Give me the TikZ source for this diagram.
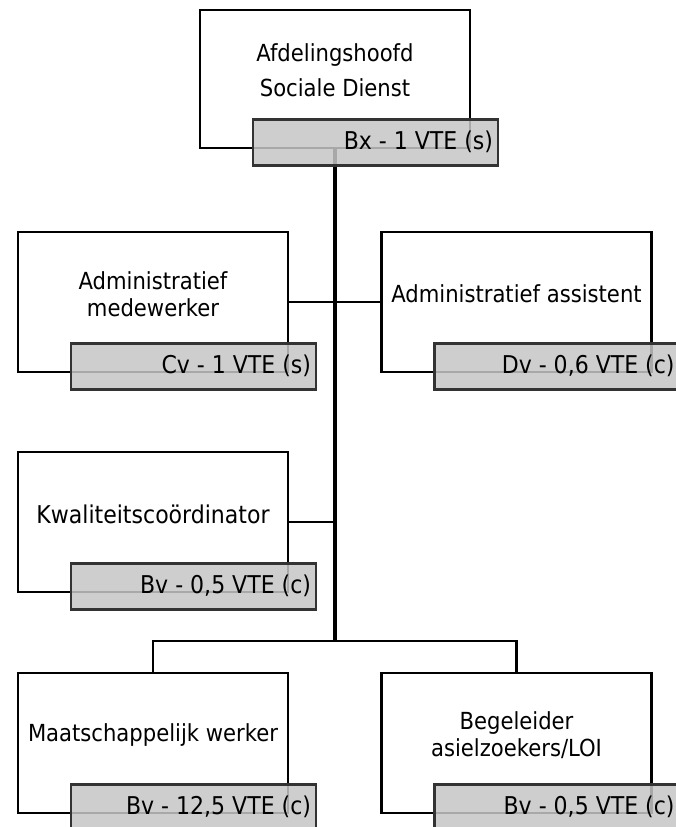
\documentclass[tikz,border=0pt]{standalone}
\usepackage{fontspec}
\setmainfont{DejaVu Sans Condensed}
\usetikzlibrary{calc,backgrounds}
\definecolor{tagfill}{RGB}{198,198,198}
\definecolor{tagline}{RGB}{51,51,51}
\begin{document}
\begin{tikzpicture}[x=1pt,y=-1pt,
  unitbox/.style={draw=black,line width=2.5pt,fill=white,minimum width=270pt,minimum height=140pt,inner sep=0pt},
  unitname/.style={align=center,font=\fontsize{23.5}{27}\selectfont,inner sep=0pt},
  tag/.style={draw=tagline,line width=2.5pt,fill=tagfill,fill opacity=0.85,minimum width=245pt,minimum height=46pt,inner sep=0pt},
  tagtext/.style={anchor=east,font=\fontsize{24.5}{26}\selectfont,inner sep=0pt},
  link/.style={line width=2.5pt,draw=black},
  trunk/.style={line width=3.5pt,draw=black}]
\useasboundingbox (0,0) rectangle (675,827);

% unit boxes
\node[unitbox,minimum height=138pt] (head) at (335,79) {};
\node[unitbox] (adm) at (153,302) {};
\node[unitbox] (ass) at (516.5,302) {};
\node[unitbox] (kwa) at (153,522) {};
\node[unitbox] (maw) at (153,743) {};
\node[unitbox] (beg) at (516.5,743) {};

% unit names
\node[unitname,font=\fontsize{23.5}{35}\selectfont] (headtxt) at ($(head.center)+(0,-9)$) {Afdelingshoofd\\Sociale Dienst};
\node[unitname] (admtxt) at ($(adm.center)+(0,-8)$) {Administratief\\medewerker};
\node[unitname] (asstxt) at ($(ass.center)+(0,-8)$) {Administratief assistent};
\node[unitname,font=\fontsize{24.5}{27}\selectfont] (kwatxt) at ($(kwa.center)+(0,-8)$) {Kwaliteitscoördinator};
\node[unitname] (mawtxt) at ($(maw.center)+(0,-8)$) {Maatschappelijk werker};
\node[unitname] (begtxt) at ($(beg.center)+(0,-8)$) {Begeleider\\asielzoekers/LOI};

% staffing tags, overlapping the lower right corner of each box
\foreach \u/\t in {head/Bx - 1 VTE (s), adm/Cv - 1 VTE (s), ass/Dv - 0{,}6 VTE (c),
                   kwa/Bv - 0{,}5 VTE (c), maw/Bv - 12{,}5 VTE (c), beg/Bv - 0{,}5 VTE (c)}{
  \node[tag] (\u tag) at ($(\u.south)+(40.5,-7)$) {};
  \node[tagtext] (\u tagtxt) at ($(\u tag.east)+(-6,0)$) {\t};
}

% branch points
\coordinate (kwaJ) at (head.south |- kwa.east);
\coordinate (bus) at (335,641);
\coordinate (busL) at (maw.north |- bus);
\coordinate (busR) at (beg.north |- bus);

% connectors, behind boxes and tags
\begin{scope}[on background layer]
  \draw[trunk] (head.south) -- (bus);
  \draw[link] (adm.east) -- (ass.west);
  \draw[link] (kwa.east) -- (kwaJ);
  \draw[link] (maw.north) -- (busL) -- (busR) -- (beg.north);
\end{scope}
\end{tikzpicture}
\end{document}
